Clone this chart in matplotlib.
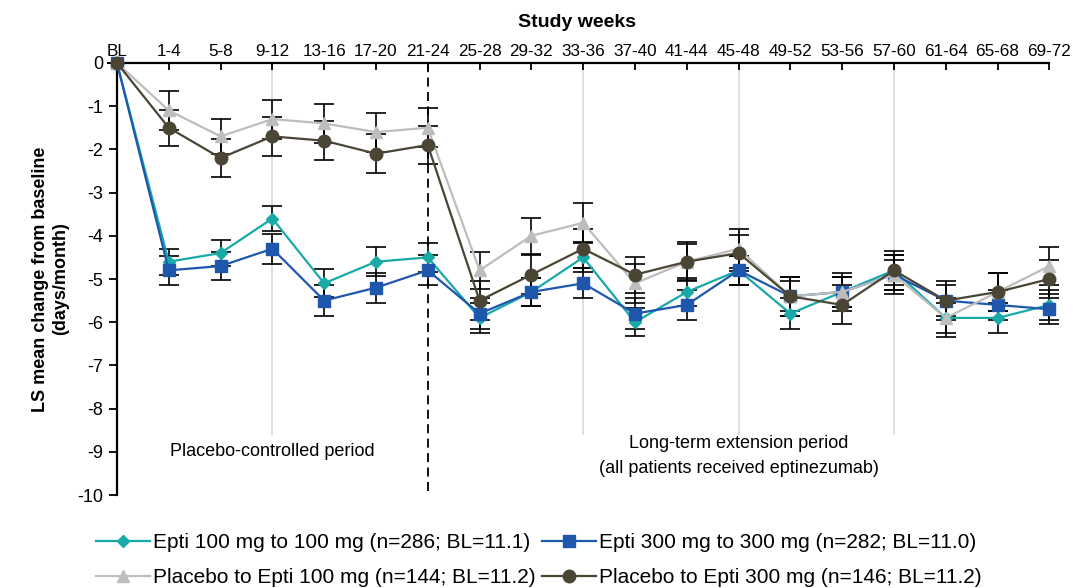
import numpy as np
import matplotlib.pyplot as plt

plt.rcParams['font.family'] = ['Liberation Sans', 'DejaVu Sans']

weeks = ['BL', '1-4', '5-8', '9-12', '13-16', '17-20', '21-24', '25-28', '29-32',
         '33-36', '37-40', '41-44', '45-48', '49-52', '53-56', '57-60', '61-64',
         '65-68', '69-72']

# LS mean change from baseline (days/month)
epti100 = [0, -4.6, -4.4, -3.6, -5.1, -4.6, -4.5, -5.9, -5.3, -4.5,
           -6.0, -5.3, -4.8, -5.8, -5.3, -4.8, -5.9, -5.9, -5.6]
epti300 = [0, -4.8, -4.7, -4.3, -5.5, -5.2, -4.8, -5.8, -5.3, -5.1,
           -5.8, -5.6, -4.8, -5.4, -5.3, -4.9, -5.5, -5.6, -5.7]
pbo100 = [0, -1.1, -1.7, -1.3, -1.4, -1.6, -1.5, -4.8, -4.0, -3.7,
          -5.1, -4.6, -4.3, -5.4, -5.3, -4.9, -5.9, -5.3, -4.7]
pbo300 = [0, -1.5, -2.2, -1.7, -1.8, -2.1, -1.9, -5.5, -4.9, -4.3,
          -4.9, -4.6, -4.4, -5.4, -5.6, -4.8, -5.5, -5.3, -5.0]

# standard errors
err100 = [0, 0.3, 0.3, 0.3, 0.32, 0.33, 0.33, 0.35, 0.33, 0.33,
          0.33, 0.33, 0.33, 0.35, 0.35, 0.35, 0.35, 0.35, 0.35]
err300 = [0, 0.33, 0.33, 0.35, 0.35, 0.35, 0.35, 0.35, 0.33, 0.35,
          0.35, 0.35, 0.33, 0.35, 0.35, 0.35, 0.35, 0.35, 0.35]
errp100 = [0, 0.45, 0.4, 0.45, 0.45, 0.45, 0.45, 0.42, 0.42, 0.45,
           0.45, 0.45, 0.45, 0.45, 0.45, 0.45, 0.45, 0.45, 0.45]
errp300 = [0, 0.42, 0.45, 0.45, 0.45, 0.45, 0.45, 0.45, 0.45, 0.45,
           0.42, 0.42, 0.42, 0.45, 0.45, 0.45, 0.45, 0.45, 0.45]

labels = ['Epti 100 mg to 100 mg (n=286; BL=11.1)',
          'Epti 300 mg to 300 mg (n=282; BL=11.0)',
          'Placebo to Epti 100 mg (n=144; BL=11.2)',
          'Placebo to Epti 300 mg (n=146; BL=11.2)']

colors = ['#17aaa9', '#1f57ad', '#bdbdbd', '#4a4534']
markers = ['D', 's', '^', 'o']
msizes = [6, 9, 9, 9]

fig = plt.figure(figsize=(10.73, 5.88), dpi=100)
ax = fig.add_axes([0.109, 0.158, 0.869, 0.735])

x = np.arange(len(weeks))

# light grey reference lines and period separator
for i in [3, 9, 12, 15]:
    ax.vlines(i, -8.6, 0, color='#d9d9d9', lw=1.2, zorder=0)
ax.vlines(6, -9.9, 0, color='black', lw=1.3, linestyles=(0, (5, 3)), zorder=1)

series = [epti100, epti300, pbo100, pbo300]
errs = [err100, err300, errp100, errp300]
handles = []
for s, e, c, m, ms, lab in zip(series, errs, colors, markers, msizes, labels):
    ax.errorbar(x, s, yerr=e, fmt='none', ecolor='black', elinewidth=1.2,
                capsize=7, capthick=1.2, zorder=2, clip_on=False)
    h, = ax.plot(x, s, color=c, marker=m, markersize=ms, lw=1.6, label=lab,
                 zorder=3, clip_on=False)
    handles.append(h)

ax.set_xlim(0, 18)
ax.set_ylim(-10, 0)
ax.set_yticks(np.arange(-10, 1, 1))
ax.set_yticklabels([str(v) for v in range(-10, 1)], fontsize=13)
ax.set_xticks(x)
ax.set_xticklabels(weeks, fontsize=12.3)
ax.xaxis.tick_top()
ax.tick_params(axis='x', direction='in', length=5, width=1.3, pad=3)
ax.tick_params(axis='y', direction='out', length=6, width=1.3, pad=4)
for sp in ['right', 'bottom']:
    ax.spines[sp].set_visible(False)
ax.spines['top'].set_linewidth(1.6)
ax.spines['left'].set_linewidth(1.6)

ax.set_ylabel('LS mean change from baseline\n(days/month)', fontsize=13,
              fontweight='bold', labelpad=6)
fig.text(0.538, 0.962, 'Study weeks', ha='center', va='center', fontsize=14,
         fontweight='bold')

ax.text(3, -9, 'Placebo-controlled period', ha='center', va='center', fontsize=13)
ax.text(12, -9.1, 'Long-term extension period\n(all patients received eptinezumab)',
        ha='center', va='center', fontsize=13, linespacing=1.6)

# legend fills column-wise, so order handles to get rows as in the figure
order = [0, 2, 1, 3]
fig.legend(handles=[handles[i] for i in order], labels=[labels[i] for i in order],
           loc='upper left', bbox_to_anchor=(0.072, 0.125),
           ncol=2, frameon=False, fontsize=15, handlelength=2.6,
           handletextpad=0.15, columnspacing=0.3, labelspacing=0.75)

fig.savefig('out.png', dpi=100)
